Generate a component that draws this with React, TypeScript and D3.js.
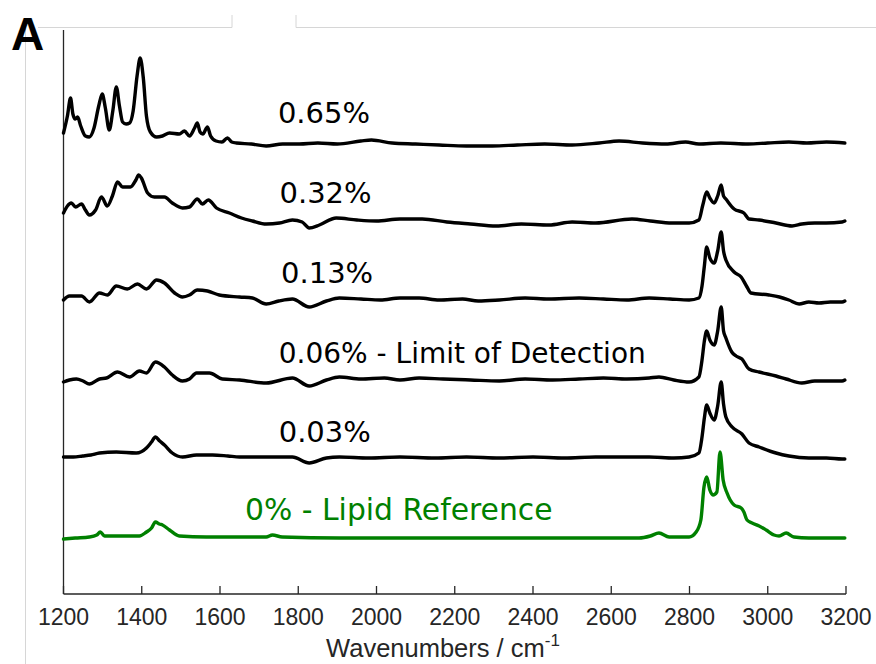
import React from "react";
import * as d3 from "d3";

type Pt = [number, number];

// wavenumber (cm^-1), intensity (arbitrary, stacked offset included)
const s065: Pt[] = [[1200,483],[1210,500],[1218,518],[1224,502],[1230,497],[1236,499],[1244,490],[1256,480],[1266,479],[1278,488],[1290,510],[1299,522],[1307,508],[1317,486],[1326,505],[1335,529],[1343,510],[1351,494],[1360,492],[1369,493],[1378,505],[1388,540],[1396,558],[1404,538],[1412,500],[1422,484],[1438,479],[1453,480],[1471,483],[1496,482],[1509,485],[1522,480],[1535,488],[1542,493],[1549,484],[1556,482],[1568,489],[1576,480],[1590,475],[1605,474],[1619,478],[1630,474],[1642,473],[1680,472],[1718,470],[1760,472],[1803,472],[1850,473],[1900,472],[1960,475],[1987,476],[2040,473],[2100,472],[2160,471],[2230,470],[2296,470],[2360,471],[2430,472],[2500,471],[2569,473],[2620,475],[2680,473],[2740,472],[2790,474],[2824,472],[2880,473],[2950,472],[3000,473],[3054,474],[3100,473],[3150,474],[3197,473]];

const s032: Pt[] = [[1200,403],[1210,410],[1220,413],[1231,409],[1246,412],[1256,406],[1266,401],[1282,406],[1297,419],[1312,410],[1325,420],[1338,434],[1351,429],[1371,429],[1385,436],[1392,441],[1399,438],[1415,423],[1432,419],[1458,419],[1478,413],[1504,408],[1522,409],[1542,417],[1555,412],[1570,416],[1591,408],[1624,403],[1655,398],[1683,395],[1718,392],[1752,393],[1785,396],[1810,394],[1828,388],[1854,391],[1897,398],[1950,396],[2000,395],[2060,397],[2117,397],[2180,394],[2240,392],[2306,390],[2370,392],[2441,391],[2500,394],[2560,393],[2653,397],[2700,395],[2755,393],[2799,393],[2824,396],[2834,411],[2844,424],[2852,418],[2863,413],[2872,420],[2881,431],[2887,420],[2893,417],[2914,407],[2939,403],[2952,397],[2978,396],[3021,393],[3062,390],[3087,392],[3120,393],[3149,393],[3190,394],[3197,395]];

const s013: Pt[] = [[1200,316],[1215,320],[1246,320],[1266,314],[1292,323],[1312,321],[1335,330],[1363,327],[1389,332],[1412,327],[1438,336],[1458,333],[1484,323],[1504,319],[1522,321],[1542,326],[1568,325],[1598,321],[1650,319],[1683,318],[1718,312],[1750,315],[1785,317],[1828,309],[1872,315],[1905,318],[1960,317],[2010,316],[2060,318],[2109,318],[2160,316],[2220,317],[2260,315],[2314,316],[2380,318],[2440,317],[2518,318],[2580,317],[2640,316],[2697,318],[2750,317],[2799,316],[2824,318],[2832,330],[2838,350],[2844,369],[2852,358],[2863,353],[2872,365],[2881,384],[2887,365],[2893,356],[2914,344],[2932,339],[2947,329],[2957,323],[3003,321],[3030,319],[3054,316],[3080,312],[3105,314],[3131,313],[3160,314],[3190,314],[3197,315]];

const s006: Pt[] = [[1200,234],[1215,236],[1233,237],[1250,235],[1266,232],[1292,237],[1310,238],[1338,244],[1369,239],[1394,245],[1412,243],[1435,254],[1458,249],[1478,241],[1504,235],[1522,237],[1540,243],[1573,243],[1606,237],[1650,236],[1718,233],[1785,238],[1828,230],[1872,236],[1905,239],[1960,237],[2020,238],[2060,236],[2109,238],[2170,237],[2240,236],[2314,235],[2380,237],[2450,236],[2518,237],[2580,238],[2640,237],[2697,238],[2722,239],[2760,236],[2799,234],[2824,239],[2832,256],[2838,275],[2844,285],[2852,276],[2863,271],[2872,285],[2881,309],[2887,285],[2893,278],[2908,264],[2919,260],[2934,257],[2952,247],[2978,244],[3021,240],[3047,237],[3087,233],[3120,235],[3149,235],[3190,235],[3197,236]];

const s003: Pt[] = [[1200,159],[1225,159],[1249,160],[1270,161],[1292,163],[1335,164],[1386,163],[1412,168],[1425,174],[1435,179],[1446,175],[1458,171],[1478,163],[1504,159],[1540,161],[1581,161],[1620,160],[1650,159],[1734,159],[1785,159],[1828,153],[1872,158],[1905,159],[1980,158],[2060,159],[2150,158],[2230,159],[2314,158],[2400,159],[2480,158],[2560,159],[2697,159],[2760,158],[2799,159],[2824,163],[2832,179],[2838,198],[2844,211],[2852,203],[2863,196],[2872,210],[2881,234],[2887,212],[2893,199],[2909,189],[2934,182],[2952,173],[2978,169],[3021,163],[3054,160],[3105,158],[3150,158],[3190,157],[3197,157]];

const s000: Pt[] = [[1200,77],[1230,78],[1266,79],[1285,81],[1294,84],[1305,80],[1340,80],[1394,80],[1412,84],[1425,88],[1435,94],[1445,92],[1453,91],[1471,86],[1496,80],[1565,79],[1650,79],[1718,79],[1734,81],[1759,79],[1905,78],[2100,78],[2314,78],[2500,78],[2671,78],[2700,80],[2722,83],[2748,79],[2799,79],[2817,84],[2829,96],[2837,129],[2844,139],[2852,126],[2860,121],[2870,124],[2878,164],[2886,136],[2896,123],[2914,111],[2932,108],[2939,104],[2947,96],[2960,93],[2978,90],[2996,86],[3016,81],[3029,80],[3047,83],[3067,79],[3105,78],[3150,78],[3197,78]];

const seriesData: Pt[][] = [s065, s032, s013, s006, s003, s000];
const seriesColors = ["#000000", "#000000", "#000000", "#000000", "#000000", "#008000"];
const seriesLabels = ["0.65%", "0.32%", "0.13%", "0.06% - Limit of Detection", "0.03%", "0% - Lipid Reference"];
const labelAnchors: Pt[] = [[1748, 493], [1752, 413], [1756, 333], [1750, 253], [1750, 174], [1664, 96]];
const labelSizes = [29, 29, 29, 28, 29, 29.8];

const xTicks = [1200, 1400, 1600, 1800, 2000, 2200, 2400, 2600, 2800, 3000, 3200];

export default function App() {
  const W = 876, H = 664;
  const x = d3.scaleLinear().domain([1200, 3200]).range([63.5, 846]);
  const y = d3.scaleLinear().domain([22, 586]).range([594, 30]);
  const line = d3.line<Pt>().x(d => x(d[0])).y(d => y(d[1])).curve(d3.curveMonotoneX);
  const y0 = y.range()[0];
  const y1 = y.range()[1];
  const gray = "#d6d6d6";
  const axisColor = "#262626";
  return (
    <svg width={W} height={H} style={{ position: "absolute", left: 0, top: 0, background: "#fff" }}>
      {/* light frame pieces */}
      <line x1={25.5} y1={29} x2={25.5} y2={H} stroke={gray} strokeWidth={1} />
      <line x1={38} y1={27.5} x2={232} y2={27.5} stroke={gray} strokeWidth={1} />
      <line x1={232} y1={15} x2={232} y2={27.5} stroke={gray} strokeWidth={1} />
      <line x1={296} y1={27.5} x2={W} y2={27.5} stroke={gray} strokeWidth={1} />
      <line x1={296} y1={15} x2={296} y2={27.5} stroke={gray} strokeWidth={1} />
      <text x={11} y={50} fontFamily="Liberation Sans, Arial, sans-serif" fontWeight="bold" fontSize={46} fill="#000">A</text>

      {/* axes */}
      <line x1={x.range()[0]} y1={y1} x2={x.range()[0]} y2={y0} stroke={axisColor} strokeWidth={1.3} />
      <line x1={x.range()[0]} y1={y0} x2={x.range()[1]} y2={y0} stroke={axisColor} strokeWidth={1.3} />
      {xTicks.map(t => (
        <g key={t}>
          <line x1={x(t)} x2={x(t)} y1={y0} y2={y0 - 8} stroke={axisColor} strokeWidth={1.3} />
          <text x={x(t)} y={625} textAnchor="middle" fontFamily="Liberation Sans, Arial, sans-serif" fontSize={23} fill={axisColor}>{t}</text>
        </g>
      ))}
      <text x={443} y={657} textAnchor="middle" fontFamily="Liberation Sans, Arial, sans-serif" fontSize={25.5} fill={axisColor}>
        Wavenumbers / cm<tspan dy={-11} fontSize={17}>-1</tspan>
      </text>

      {/* spectra */}
      {seriesData.map((s, i) => (
        <path key={i} d={line(s) || ""} fill="none" stroke={seriesColors[i]} strokeWidth={3.4} strokeLinejoin="round" strokeLinecap="round" />
      ))}
      {seriesLabels.map((lab, i) => (
        <text key={lab} x={x(labelAnchors[i][0])} y={y(labelAnchors[i][1])} fontFamily="DejaVu Sans, sans-serif" fontSize={labelSizes[i]} fill={seriesColors[i]}>{lab}</text>
      ))}
    </svg>
  );
}
